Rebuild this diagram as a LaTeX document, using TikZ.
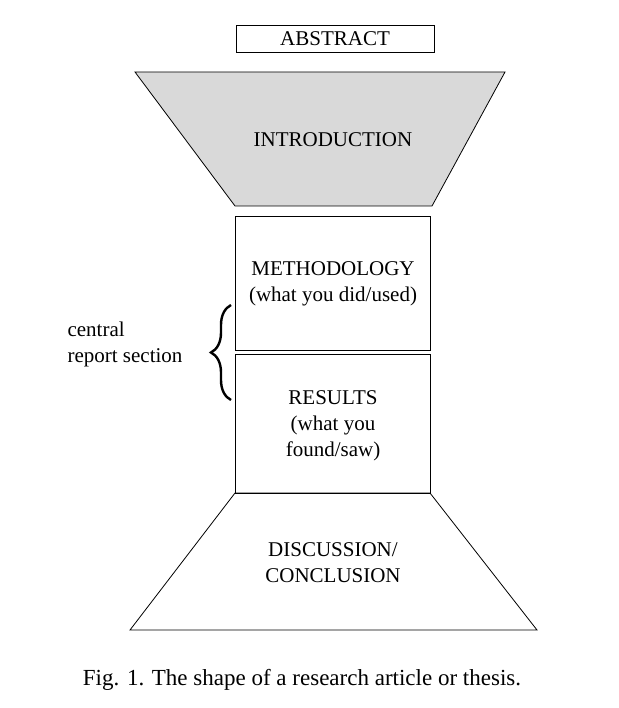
\documentclass[tikz,border=0pt]{standalone}
\usepackage{fontspec}
\setmainfont{Liberation Serif}
\usetikzlibrary{decorations.pathreplacing}
\begin{document}
\begin{tikzpicture}[x=1pt,y=-1pt,
  box/.style={draw,line width=0.8pt},
  lbl/.style={align=center,font=\fontsize{21}{26}\selectfont}]
\useasboundingbox (0,0) rectangle (618,708);
\draw[box] (236,25) rectangle (434,52);
\node[lbl] (abs) at (335,39) {ABSTRACT};
\draw[box,fill=black!15] (135,72) -- (505,72) -- (432,206) -- (235,206) -- cycle;
\node[lbl] (intro) at (333,140) {INTRODUCTION};
\draw[box] (235,216) rectangle (430,350);
\node[lbl] (meth) at (333,284) {METHODOLOGY\\(what you did/used)};
\draw[box] (235,354) rectangle (430,493);
\node[lbl] (res) at (333,426) {RESULTS\\(what you\\found/saw)};
\draw[box] (235,493) -- (430,493) -- (537,630) -- (130,630) -- cycle;
\node[lbl] (disc) at (333,563) {DISCUSSION/\\CONCLUSION};
\coordinate (b1) at (231,400);
\coordinate (b2) at (231,305);
\draw[line width=2.4pt,decorate,decoration={brace,amplitude=20pt}] (b1) -- (b2);
\node[lbl,align=left,anchor=west] (cen) at (64,344) {central\\report section};
\node[lbl,font=\fontsize{23}{26}\selectfont] (cap) at (302,680) {Fig. 1. The shape of a research article or thesis.};
\end{tikzpicture}
\end{document}
